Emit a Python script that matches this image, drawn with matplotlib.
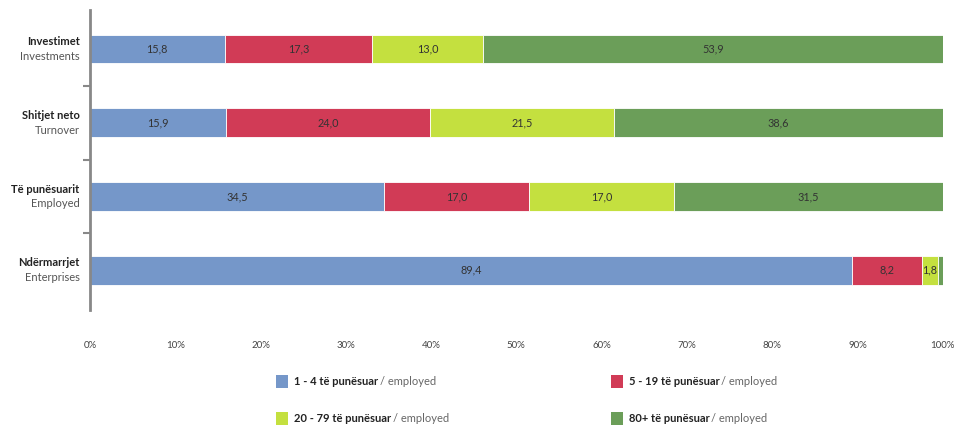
import matplotlib.pyplot as plt
from matplotlib.patches import Rectangle

plt.rcParams['font.family'] = ['Lato', 'DejaVu Sans']

cats_sq = ["Ndërmarrjet", "Të punësuarit", "Shitjet neto", "Investimet"]
cats_en = ["Enterprises", "Employed", "Turnover", "Investments"]
s1_4 = [89.4, 34.5, 15.9, 15.8]
s5_19 = [8.2, 17.0, 24.0, 17.3]
s20_79 = [1.8, 17.0, 21.5, 13.0]
s80 = [0.6, 31.5, 38.6, 53.9]

series = [s1_4, s5_19, s20_79, s80]
colors = ["#7597c9", "#d13b56", "#c4e03f", "#6b9e59"]
leg_bold = ["1 - 4 të punësuar", "5 - 19 të punësuar", "20 - 79 të punësuar", "80+ të punësuar"]

fig = plt.figure(figsize=(9.57, 4.26), dpi=100)
ax = fig.add_axes([0.094, 0.272, 0.891, 0.705])

y = range(len(cats_sq))
left = [0.0] * len(cats_sq)
for vals, c in zip(series, colors):
    ax.barh(y, vals, left=left, height=0.39, color=c, edgecolor="white", linewidth=0.6)
    for i, v in enumerate(vals):
        if v >= 1.5:
            ax.text(left[i] + v / 2, i, f"{v:.1f}".replace(".", ","), ha="center", va="center",
                    fontsize=7.8, color="#333333")
    left = [l + v for l, v in zip(left, vals)]

ax.set_xlim(0, 100)
ax.set_ylim(-0.54, 3.53)
ax.set_xticks(range(0, 101, 10))
ax.set_xticklabels([f"{t}%" for t in range(0, 101, 10)], fontsize=7, color="#444444")
ax.tick_params(axis="x", length=0, pad=22)
ax.set_yticks([0.5, 1.5, 2.5])
ax.set_yticklabels([])
ax.tick_params(axis="y", length=5, width=1.5, color="#888888", direction="out")
for s in ["top", "right", "bottom"]:
    ax.spines[s].set_visible(False)
ax.spines["left"].set_color("#888888")
ax.spines["left"].set_linewidth(2)

for i in y:
    ax.text(-1.2, i + 0.1, cats_sq[i], ha="right", va="center", fontsize=8,
            fontweight="bold", color="#222222")
    ax.text(-1.2, i - 0.1, cats_en[i], ha="right", va="center", fontsize=8,
            color="#555555")

# legend drawn by hand so each label can mix bold and normal text
fig.canvas.draw()
renderer = fig.canvas.get_renderer()
pos = [(0.288, 0.090), (0.638, 0.090), (0.288, 0.003), (0.638, 0.003)]
W, H = fig.get_size_inches() * fig.dpi
for (px, py), c, lab in zip(pos, colors, leg_bold):
    fig.patches.append(Rectangle((px, py), 12 / W, 13 / H, transform=fig.transFigure,
                                 facecolor=c, edgecolor="none"))
    t = fig.text(px + 18 / W, py + 6 / H, lab, fontsize=8, fontweight="bold",
                 color="#222222", va="center")
    bb = t.get_window_extent(renderer)
    fig.text(bb.x1 / W + 2 / W, py + 6 / H, "/ employed", fontsize=8,
             color="#666666", va="center")

fig.savefig("out.png", dpi=100)
